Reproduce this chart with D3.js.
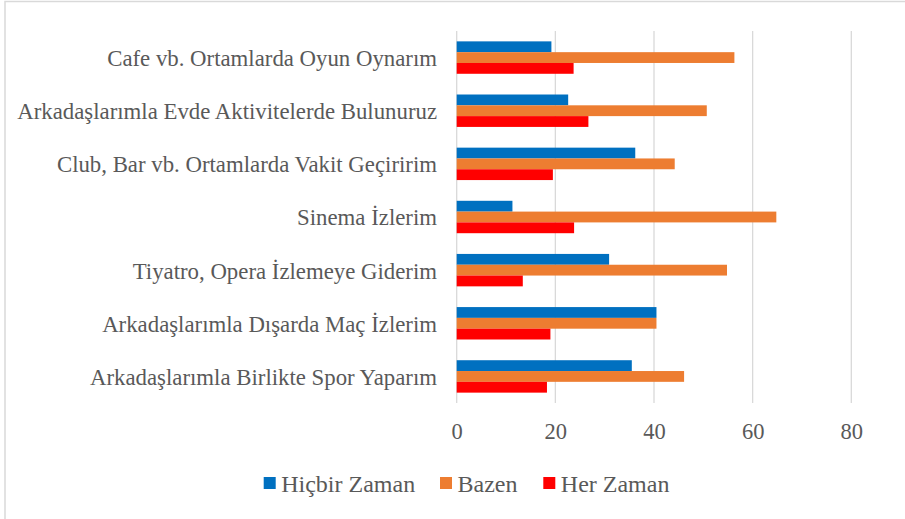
<!DOCTYPE html>
<html><head><meta charset="utf-8">
<script src="https://cdn.jsdelivr.net/npm/d3@7"></script>
<style>body{margin:0;background:#fff;} svg{display:block;} text{font-family:"Liberation Serif";}</style>
</head><body>
<svg id="c" width="905" height="519"></svg>
<script>
const categories = ["Cafe vb. Ortamlarda Oyun Oynarım","Arkadaşlarımla Evde Aktivitelerde Bulunuruz","Club, Bar vb. Ortamlarda Vakit Geçiririm","Sinema İzlerim","Tiyatro, Opera İzlemeye Giderim","Arkadaşlarımla Dışarda Maç İzlerim","Arkadaşlarımla Birlikte Spor Yaparım"];
const seriesNames = ["Hiçbir Zaman","Bazen","Her Zaman"];
const hicbir = [19.2,22.6,36.2,11.3,30.9,40.5,35.5];
const bazen = [56.3,50.7,44.2,64.8,54.8,40.5,46.1];
const herZaman = [23.7,26.7,19.5,23.8,13.4,19.0,18.3];
const colors = ["#0070C0","#ED7D31","#FF0000"];
const xTicks = [0,20,40,60,80];

const svg = d3.select("#c");
const font = "Liberation Serif";
const textColor = "#595959";

// outer border (left and top)
svg.append("path").attr("d","M5,519 V1.5 H905").attr("fill","none").attr("stroke","#d9d9d9").attr("stroke-width",1.5);

const x = d3.scaleLinear().domain([0,80]).range([456.7,851.3]);
const y = d3.scaleBand().domain(categories).range([31,403]).paddingInner(0.39).paddingOuter(0.195);
const series = [hicbir,bazen,herZaman];
const y1 = d3.scaleBand().domain(d3.range(3)).range([0,y.bandwidth()]);

// gridlines
svg.append("g").selectAll("line").data(xTicks).join("line")
  .attr("x1",d=>x(d)).attr("x2",d=>x(d)).attr("y1",31).attr("y2",403)
  .attr("stroke","#d9d9d9").attr("stroke-width",1.3);

// bars
const g = svg.append("g");
categories.forEach((c,i)=>{
  series.forEach((s,k)=>{
    g.append("rect").attr("x",x(0)).attr("y",y(c)+y1(k))
      .attr("width",x(s[i])-x(0)).attr("height",y1.bandwidth())
      .attr("fill",colors[k]);
  });
});

// category labels
svg.append("g").selectAll("text").data(categories).join("text")
  .attr("x",437).attr("y",d=>y(d)+y.bandwidth()/2).attr("dy","0.37em")
  .attr("text-anchor","end").style("font-family",font).style("font-size","22.8px")
  .attr("fill",textColor).text(d=>d);

// x axis tick labels
const xAxis = d3.axisBottom(x).tickValues(xTicks).tickSize(0).tickPadding(0);
const ax = svg.append("g").attr("transform","translate(0,420)").call(xAxis);
ax.select(".domain").remove();
ax.selectAll("text").style("font-family",font).style("font-size","22.5px").attr("fill",textColor).attr("dy","0.86em");

// legend
const legX = [263.7,440,543.3];
const leg = svg.append("g");
seriesNames.forEach((n,k)=>{
  leg.append("rect").attr("x",legX[k]).attr("y",477).attr("width",12).attr("height",12).attr("fill",colors[k]);
  leg.append("text").attr("x",legX[k]+17.5).attr("y",492).style("font-family",font).style("font-size","24px").attr("fill",textColor).text(n);
});
</script>
</body></html>
